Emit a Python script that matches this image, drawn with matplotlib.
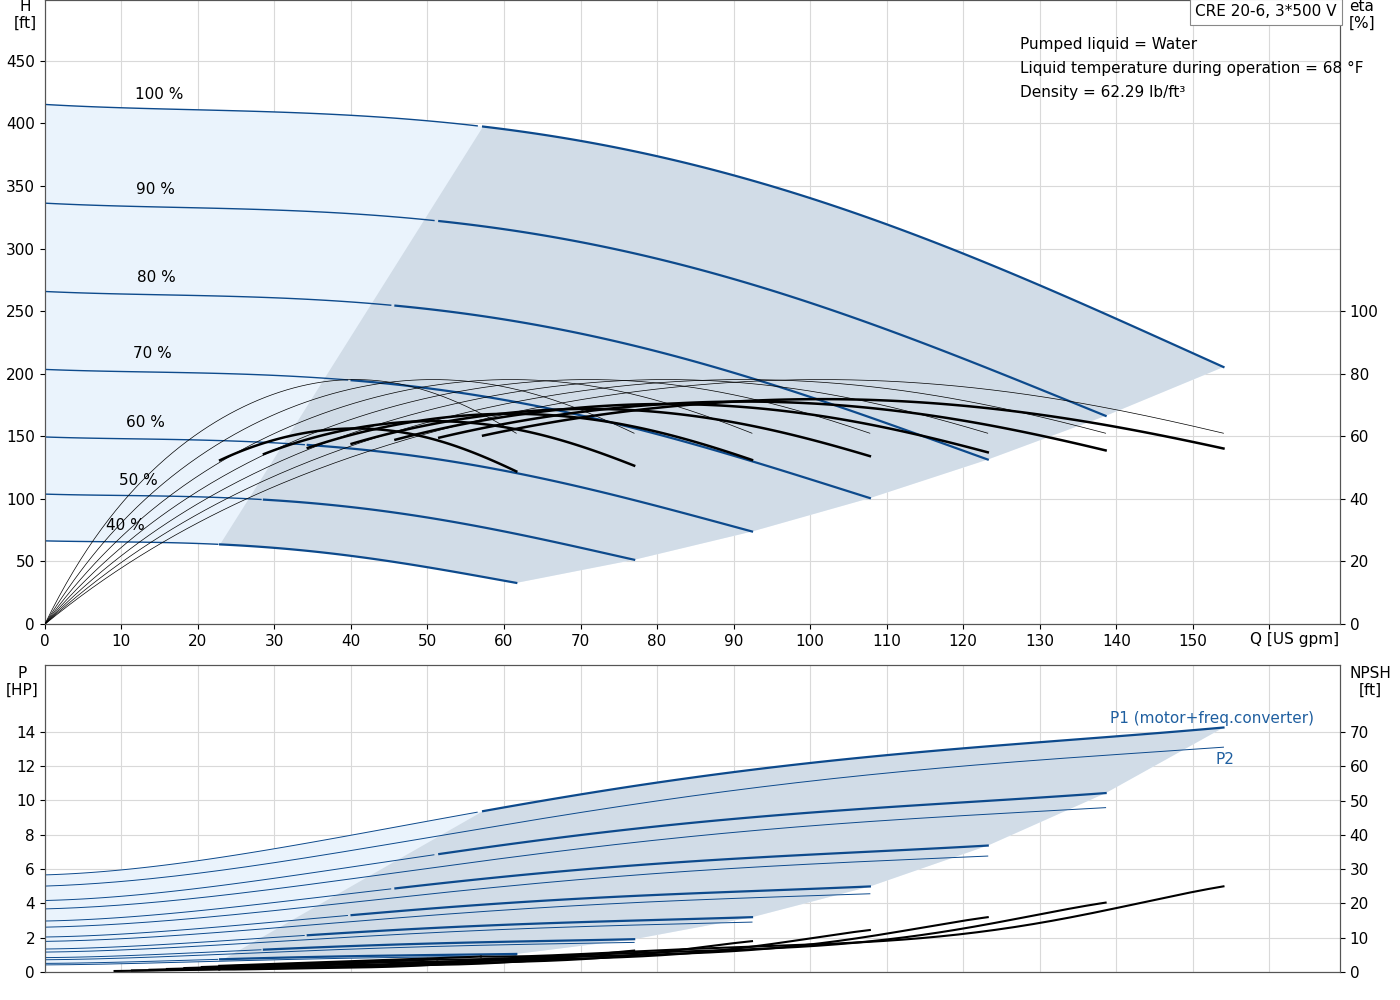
import numpy as np
import matplotlib
matplotlib.use("Agg")
import matplotlib.pyplot as plt

speeds = [1.0, 0.9, 0.8, 0.7, 0.6, 0.5, 0.4]
speed_labels = ["100 %", "90 %", "80 %", "70 %", "60 %", "50 %", "40 %"]
label_pos = [(15.0, 423), (14.4, 347), (14.6, 277), (14.1, 216), (13.1, 161), (12.2, 115), (10.5, 79)]

# 100 % speed curves (affinity laws give other speeds)
Q100 = np.array([0, 20, 40, 57, 80, 100, 120, 140, 154])
H100 = np.array([415, 412, 405, 398, 375, 340, 295, 245, 205])
P1_100 = np.array([5.5, 6.4, 7.7, 9.3, 10.9, 12.0, 12.9, 13.6, 14.1])
P2_100 = np.array([4.9, 5.7, 6.9, 8.3, 9.9, 11.0, 11.9, 12.6, 13.0])
q_rel = np.array([0, .05, .1, .2, .3, .4, .5, .6, .7, .8, .9, 1.0])
eta_pump = np.array([0, 14, 26, 45, 58, 68, 74, 77.5, 78, 75, 69, 61])
eta_factor = [0.92, 0.91, 0.9, 0.88, 0.86, 0.83, 0.8]
q_npsh = np.array([0.37, 0.5, 0.65, 0.8, 0.9, 1.0])
npsh100 = np.array([4.5, 6, 8, 12, 18, 25])
Qmax = 154
q_start = 0.37

blue = "#0d4a8c"
light = "#eaf3fc"
dark = "#d1dce7"
grid = "#d9d9d9"

fig = plt.figure(figsize=(14, 10), dpi=100)
ax = fig.add_axes([0.032, 0.376, 0.925, 0.624])
axr = ax.twinx()
bx = fig.add_axes([0.032, 0.028, 0.925, 0.307])
bxr = bx.twinx()

def sm(Q, Y, n=200):
    qq = np.linspace(Q[0], Q[-1], n)
    from numpy.polynomial import polynomial as P
    c = np.polyfit(Q, Y, min(5, len(Q) - 1))
    return qq, np.polyval(c, qq)

# ---- top panel
curves = []
for n in speeds:
    q, h = sm(Q100 * n, H100 * n**2)
    curves.append((q, h))
# light region
top_q, top_h = curves[0]
bot_q, bot_h = curves[-1]
ends_q = [c[0][-1] for c in curves]
ends_h = [c[1][-1] for c in curves]
poly_q = np.concatenate([[0], top_q, ends_q[1:], bot_q[::-1]])
poly_h = np.concatenate([[bot_h[0]], top_h, ends_h[1:], bot_h[::-1]])
ax.fill(poly_q, poly_h, color=light, zorder=1, lw=0)
# dark region
m0 = top_q >= q_start * Qmax
m1 = bot_q >= q_start * Qmax * speeds[-1]
dq = np.concatenate([top_q[m0], ends_q[1:], bot_q[m1][::-1]])
dh = np.concatenate([top_h[m0], ends_h[1:], bot_h[m1][::-1]])
ax.fill(dq, dh, color=dark, zorder=1, lw=0)
for (q, h), n, lab, pos in zip(curves, speeds, speed_labels, label_pos):
    m = q >= q_start * Qmax * n
    ax.plot(q[~m], h[~m], color=blue, lw=1.0, zorder=3)
    ax.plot(q[m], h[m], color=blue, lw=1.6, zorder=3)
    ax.text(pos[0], pos[1], lab, fontsize=11, ha="center", va="center", zorder=5)

for n, f in zip(speeds, eta_factor):
    q, e = sm(q_rel * Qmax * n, eta_pump)
    axr.plot(q, e, color="black", lw=0.5, zorder=3)
    m = q >= q_start * Qmax * n
    axr.plot(q[m], e[m] * f, color="black", lw=1.8, zorder=4)

ax.set_xlim(0, 169.2)
ax.set_ylim(0, 498.7)
axr.set_ylim(0, 199.4)
ax.set_xticks(range(0, 170, 10))
ax.set_xticklabels([str(v) for v in range(0, 160, 10)] + [""])
ax.set_yticks(range(0, 451, 50))
axr.set_yticks(range(0, 101, 20))
ax.grid(True, color=grid, lw=0.8)
ax.set_axisbelow(True)
ax.text(157.5, -12, "Q [US gpm]", fontsize=11, va="center", ha="left")
fig.text(25 / 1400, 1 - 15 / 1000, "H\n[ft]", ha="center", va="center", fontsize=11)
fig.text(1362 / 1400, 1 - 15 / 1000, "eta\n[%]", ha="center", va="center", fontsize=11)
fig.text(1266 / 1400, 1 - 12 / 1000, "CRE 20-6, 3*500 V", ha="center", va="center", fontsize=11,
         bbox=dict(boxstyle="square,pad=0.35", fc="white", ec="#888888", lw=0.8))
for i, t in enumerate(["Pumped liquid = Water", "Liquid temperature during operation = 68 °F",
                       "Density = 62.29 lb/ft³"]):
    fig.text(1020 / 1400, 1 - (44 + 24 * i) / 1000, t, fontsize=11, va="center", ha="left")

# ---- bottom panel
p1c = []
for n in speeds:
    q, p = sm(Q100 * n, P1_100 * n**3 + 0.15)
    p1c.append((q, p))
p2c = [sm(Q100 * n, P2_100 * n**3 + 0.1) for n in speeds]
tq, tp = p1c[0]
bq, bp = p2c[-1]
eq = [c[0][-1] for c in p1c]
ep = [c[1][-1] for c in p1c]
bx.fill(np.concatenate([[0], tq, eq[1:], bq[::-1]]), np.concatenate([[bp[0]], tp, ep[1:], bp[::-1]]),
        color=light, lw=0, zorder=1)
m0 = tq >= q_start * Qmax
m1 = bq >= q_start * Qmax * speeds[-1]
bx.fill(np.concatenate([tq[m0], eq[1:], bq[m1][::-1]]), np.concatenate([tp[m0], ep[1:], bp[m1][::-1]]),
        color=dark, lw=0, zorder=1)
for (q, p), (q2, p2), n in zip(p1c, p2c, speeds):
    m = q >= q_start * Qmax * n
    bx.plot(q[~m], p[~m], color=blue, lw=0.7, zorder=3)
    bx.plot(q[m], p[m], color=blue, lw=1.6, zorder=3)
    bx.plot(q2, p2, color=blue, lw=0.7, zorder=3)
for n in speeds:
    q, v = sm(q_npsh * Qmax * n, npsh100 * n**2)
    bxr.plot(q, v, color="black", lw=1.5, zorder=4)
    bxr.plot([q_start * Qmax * n * 0.4, q[0]], [0.4 * v[0], v[0]], color="black", lw=1.5)

bx.set_xlim(0, 169.2)
bx.set_ylim(0, 17.9)
bxr.set_ylim(0, 89.6)
bx.set_xticks(range(0, 170, 10))
bx.set_xticklabels([])
bx.tick_params(axis="x", length=0)
bx.set_yticks(range(0, 15, 2))
bxr.set_yticks(range(0, 71, 10))
bx.grid(True, color=grid, lw=0.8)
bx.set_axisbelow(True)
bx.text(152.5, 14.8, "P1 (motor+freq.converter)", color="#1f5fa0", fontsize=11, ha="center", va="center")
bx.text(154.2, 12.4, "P2", color="#1f5fa0", fontsize=11, ha="center", va="center")
fig.text(22 / 1400, 1 - 682 / 1000, "P\n[HP]", ha="center", va="center", fontsize=11)
fig.text(1370 / 1400, 1 - 682 / 1000, "NPSH\n[ft]", ha="center", va="center", fontsize=11)

for a in (ax, axr, bx, bxr):
    a.tick_params(labelsize=11)
    for s in a.spines.values():
        s.set_color("#555555")

fig.savefig("out.png", dpi=100)
